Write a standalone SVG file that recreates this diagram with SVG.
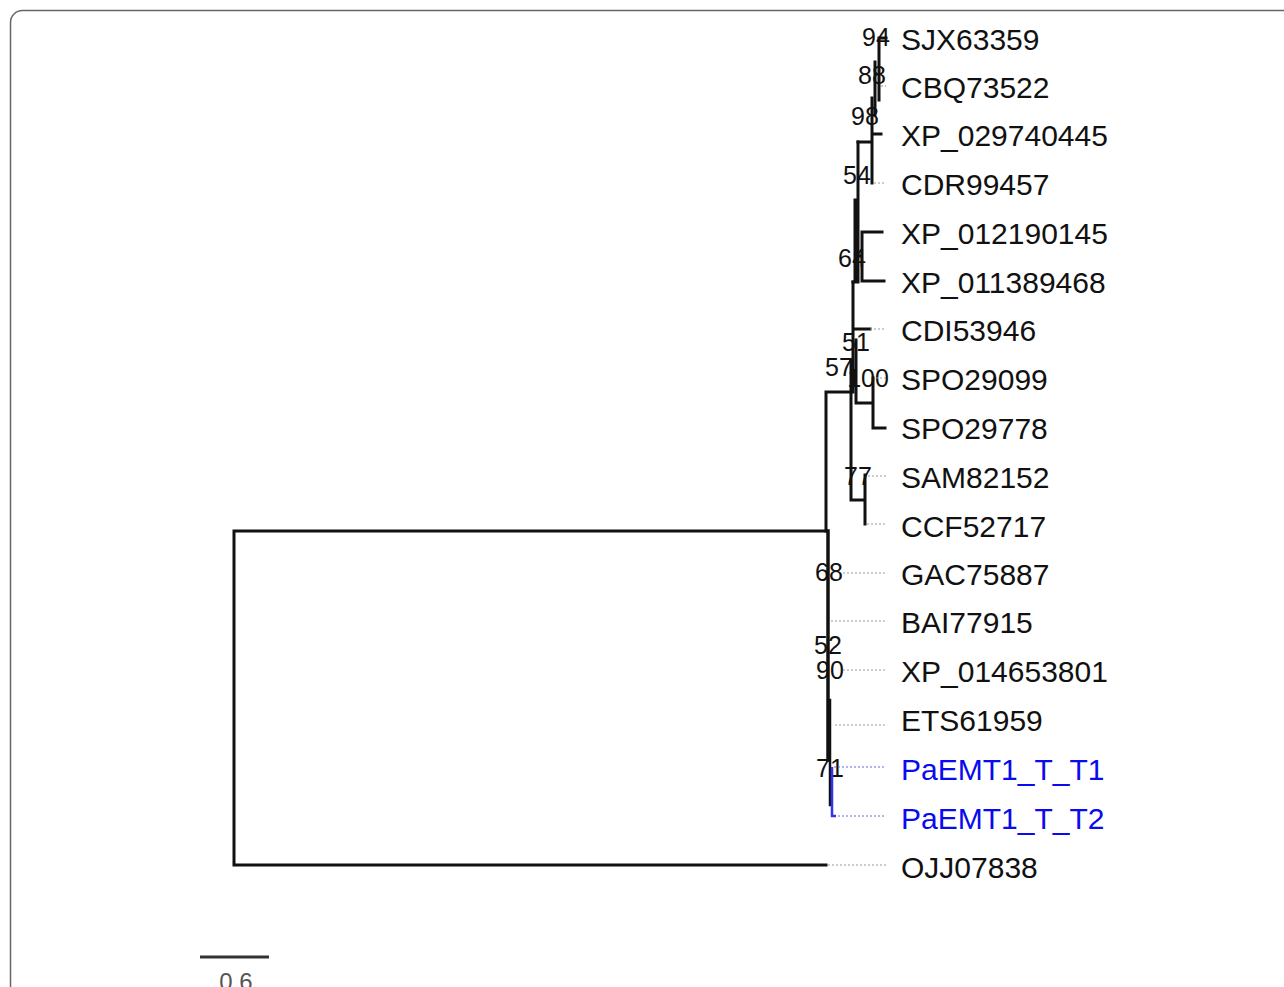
<svg xmlns="http://www.w3.org/2000/svg" width="1284" height="987" viewBox="0 0 1284 987">
  <style>
    .br { stroke: #111; stroke-width: 3; fill: none; stroke-linecap: square; }
    .brb { stroke: #3333ee; stroke-width: 2.5; fill: none; }
    .dot { stroke: #999; stroke-width: 1; stroke-dasharray: 2 2; fill: none; }
    .dotb { stroke: #6666ee; stroke-width: 1; stroke-dasharray: 2 2; fill: none; }
    .leaf { font-family: "Liberation Sans", Arial, sans-serif; font-size: 30px; fill: #111; }
    .leafb { font-family: "Liberation Sans", Arial, sans-serif; font-size: 30px; fill: #0a0aee; }
    .bs { font-family: "Liberation Sans", Arial, sans-serif; font-size: 25px; fill: #111; text-anchor: middle; }
  </style>

  <rect id="frame" x="10.5" y="10.5" width="1300" height="1000" rx="12" fill="#fff" stroke="#666" stroke-width="1.5"/>

  <!-- bootstrap values (drawn beneath the branches) -->
  <g id="support">
    <text class="bs" x="876" y="46">94</text>
    <text class="bs" x="872" y="84">88</text>
    <text class="bs" x="865" y="125">98</text>
    <text class="bs" x="857" y="184">54</text>
    <text class="bs" x="852" y="267">64</text>
    <text class="bs" x="856" y="351">51</text>
    <text class="bs" x="839" y="376">57</text>
    <text class="bs" x="868" y="387">100</text>
    <text class="bs" x="858" y="485">77</text>
    <text class="bs" x="829" y="581">68</text>
    <text class="bs" x="828" y="654">52</text>
    <text class="bs" x="830" y="679">90</text>
    <text class="bs" x="830" y="777">71</text>
  </g>

  <!-- branches -->
  <g id="connectors">
    <!-- root -->
    <path class="br" d="M234,531 V865 M234,531 H826 M234,865 H826"/>
    <path class="dot" d="M828,865 H886"/>

    <!-- ingroup split -->
    <path class="br" d="M826,392 V531 M826,392 H851"/>

    <!-- lower cluster -->
    <path class="br" d="M828,531 V760" style="stroke-width:3.5"/>
    <path class="br" d="M830,700 V805" style="stroke-width:2.5"/>
    <path class="dot" d="M843,573 H886 M831,621 H886 M843,670 H886 M835,725 H886"/>
    <path class="brb" d="M832,767 V816 H836"/>
    <path class="dotb" d="M834,767 H886 M838,816 H886"/>

    <!-- upper cluster backbone -->
    <path class="br" d="M851,360 V500 H865 M865,475 V524"/>
    <path class="dot" d="M868,476 H886 M867,524 H886"/>
    <path class="br" d="M853,282 V392"/>
    <path class="br" d="M856,340 V403 H873 M873,378 V428 H885"/>
    <path class="dot" d="M876,378 H886"/>
    <path class="br" d="M855,329 H870"/>
    <path class="dot" d="M870,329 H886"/>

    <!-- XP_012190145 / XP_011389468 -->
    <path class="br" d="M853,282 H858 M858,142 V282 M855,200 V280"/>
    <path class="br" d="M858,256 H862 M862,232 V281 H884 M862,232 H882"/>

    <!-- top clade -->
    <path class="br" d="M858,142 H872 M872,98 V183 M872,134 H881"/>
    <path class="dot" d="M874,183 H886"/>
    <path class="br" d="M875,62 V115 M879,38 V100 M879,38 H886"/>
    <path class="dot" d="M881,86 H886"/>
  </g>

  <!-- taxa -->
  <g id="n-SJX63359"><text class="leaf" x="901" y="50">SJX63359</text></g>
  <g id="n-CBQ73522"><text class="leaf" x="901" y="98">CBQ73522</text></g>
  <g id="n-XP_029740445"><text class="leaf" x="901" y="146">XP_029740445</text></g>
  <g id="n-CDR99457"><text class="leaf" x="901" y="195">CDR99457</text></g>
  <g id="n-XP_012190145"><text class="leaf" x="901" y="244">XP_012190145</text></g>
  <g id="n-XP_011389468"><text class="leaf" x="901" y="293">XP_011389468</text></g>
  <g id="n-CDI53946"><text class="leaf" x="901" y="341">CDI53946</text></g>
  <g id="n-SPO29099"><text class="leaf" x="901" y="390">SPO29099</text></g>
  <g id="n-SPO29778"><text class="leaf" x="901" y="439">SPO29778</text></g>
  <g id="n-SAM82152"><text class="leaf" x="901" y="488">SAM82152</text></g>
  <g id="n-CCF52717"><text class="leaf" x="901" y="537">CCF52717</text></g>
  <g id="n-GAC75887"><text class="leaf" x="901" y="585">GAC75887</text></g>
  <g id="n-BAI77915"><text class="leaf" x="901" y="633">BAI77915</text></g>
  <g id="n-XP_014653801"><text class="leaf" x="901" y="682">XP_014653801</text></g>
  <g id="n-ETS61959"><text class="leaf" x="901" y="731">ETS61959</text></g>
  <g id="n-PaEMT1_T_T1"><text class="leafb" x="901" y="780">PaEMT1_T_T1</text></g>
  <g id="n-PaEMT1_T_T2"><text class="leafb" x="901" y="829">PaEMT1_T_T2</text></g>
  <g id="n-OJJ07838"><text class="leaf" x="901" y="878">OJJ07838</text></g>

  <!-- scale bar -->
  <g id="scale">
    <path d="M200,957 H269" stroke="#333" stroke-width="3"/>
    <text x="236" y="990" font-family="'Liberation Sans', Arial, sans-serif" font-size="24" fill="#555" text-anchor="middle">0.6</text>
  </g>
</svg>
